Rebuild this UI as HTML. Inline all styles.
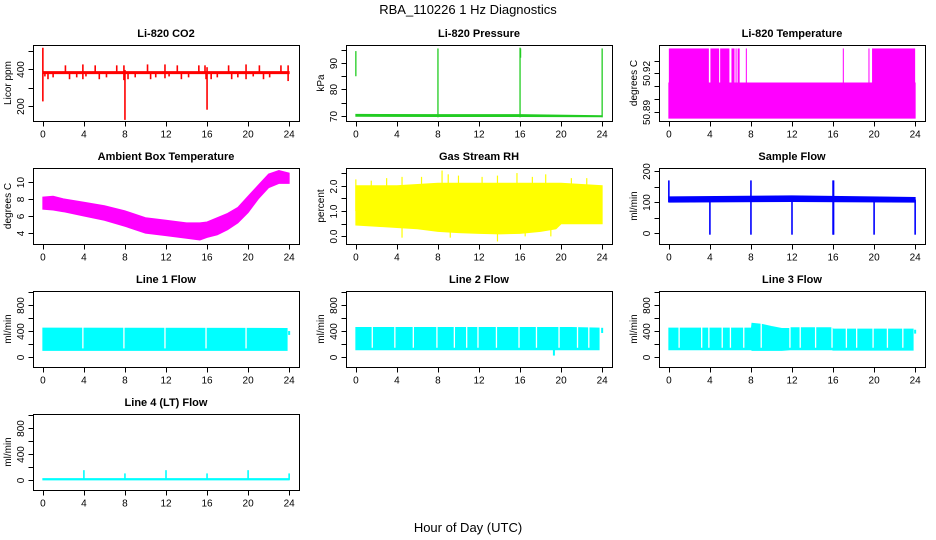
<!DOCTYPE html>
<html><head><meta charset="utf-8"><style>
html,body{margin:0;padding:0;background:#fff;}
svg{display:block;font-family:"Liberation Sans",sans-serif;}
</style></head><body>
<svg id="c" width="936" height="540" viewBox="0 0 936 540">
<text x="468" y="14" text-anchor="middle" font-size="13">RBA_110226  1 Hz Diagnostics</text>
<text x="468" y="532" text-anchor="middle" font-size="13">Hour of Day (UTC)</text>
</svg>
<script>
// ---- data ----
const xTicks=[0,4,8,12,16,20,24];
// CO2
const co2BandT=[0,24], co2BandLo=[375,375], co2BandHi=[386,386];
const co2SegT=[0,0,2.2,3.9,5.1,7.2,7.9,10.2,11.9,13.1,15.2,15.8,18.1,19.8,21.1,23.2,23.9,0.2,0.5,1.0,2.6,3.3,3.9,4.2,5.5,6.2,7.9,8.0,8.3,9.0,10.5,11.0,11.9,12.3,13.5,14.2,15.9,16.0,16.4,17.0,18.4,19.0,19.8,20.5,21.5,22.1,23.9];
const co2SegLo=[225,380,380,380,380,380,380,380,380,380,380,380,380,380,380,380,380,360,345,355,345,355,345,360,345,355,340,125,345,355,345,355,350,360,345,355,345,180,345,355,345,355,345,360,345,355,335];
const co2SegHi=[380,515,420,425,420,420,420,425,425,420,420,420,420,425,420,420,420,380,380,380,380,380,380,380,380,380,380,395,380,380,380,380,380,380,380,380,380,410,380,380,380,380,380,380,380,380,380];
// Pressure
const prBandT=[0,8,16,24], prBandLo=[69.9,69.8,69.8,69.7], prBandHi=[70.6,70.5,70.5,70.1];
const prSegT=[0,8,16,16.05,24], prSegLo=[85,69.5,69.5,92,69.5], prSegHi=[94.5,95.5,95.8,95.5,95.5];
// Li-820 temperature
const tpBandT=[0,24], tpBandLo=[50.885,50.885], tpBandHi=[50.9125,50.9125];
const tpUpStart=[0,4.05,5.0,6.1,6.5,6.7,7.5,16.95,19.45,19.8];
const tpUpEnd=[3.9,4.9,5.9,6.4,6.6,6.9,7.6,17.05,19.55,24];
// Ambient box temperature
const amBandT=[0,1,2,4,6,8,10,12,14,15.3,16,17,18,19,20,21,22,23,24];
const amBandLo=[6.8,6.7,6.5,6.0,5.5,4.8,4.0,3.7,3.4,3.2,3.5,3.8,4.4,5.2,6.4,8.0,9.3,9.8,9.8];
const amBandHi=[8.2,8.3,8.0,7.6,7.2,6.6,5.8,5.5,5.2,5.2,5.3,5.8,6.3,7.0,8.3,9.6,10.9,11.3,11.0];
// Gas stream RH
const rhBandT=[0,2,4,6,8,10,12,14,16,18,19.5,20,22,24];
const rhBandLo=[0.45,0.4,0.35,0.3,0.2,0.15,0.12,0.1,0.12,0.2,0.3,0.5,0.5,0.5];
const rhBandHi=[2.0,2.0,2.0,2.05,2.1,2.1,2.1,2.1,2.1,2.1,2.1,2.1,2.05,2.0];
const rhSegT=[0,1.5,3.0,4.5,6.4,8.4,9.0,10.0,12.3,13.8,15.7,17.2,18.5,21.0,22.5,4.5,9.2,13.8,16.5,19.0];
const rhSegLo=[1,1,1,1,1,1,1,1,1,1,1,1,1,1,1,-0.05,-0.05,-0.2,0.0,0.0];
const rhSegHi=[2.25,2.2,2.3,2.35,2.35,2.6,2.45,2.4,2.35,2.4,2.5,2.35,2.45,2.3,2.3,1,1,1,1,1];
// Sample flow
const sfBandT=[0,12,24], sfBandLo=[100,102,100], sfBandHi=[117,120,115];
const sfSegT=[0,4,8,12,16,16.05,20,24];
const sfSegLo=[100,-5,-5,-5,-5,-5,-5,-5];
const sfSegHi=[170,110,170,115,170,170,110,108];
// Line 1 flow
const l1BandT=[0,23.8], l1BandLo=[100,100], l1BandHi=[445,440];
const l1SegT=[24], l1SegLo=[340], l1SegHi=[400];
const l1GapT=[3.9,7.9,11.9,15.9,19.8];
// Line 2 flow
const l2BandT=[0,21,23.7], l2BandLo=[110,110,110], l2BandHi=[455,455,445];
const l2SegT=[24,19.3], l2SegLo=[370,20], l2SegHi=[450,110];
const l2GapT=[1.6,3.8,5.6,7.9,9.6,10.8,11.9,13.7,15.9,17.6,19.8,21.6,22.7];
// Line 3 flow
const l3BandT=[0,8.05,8.1,9,10,11,11.8,11.85,15.9,16,23.8], l3BandLo=[110,110,100,100,100,100,110,110,110,105,105];
const l3BandHi=[445,445,520,505,470,440,440,450,450,430,430];
const l3SegT=[24], l3SegLo=[360], l3SegHi=[420];
const l3GapT=[1.0,3.2,3.9,5.2,6.0,7.3,9.0,11.8,12.8,14.3,15.9,17.3,18.3,19.9,21.3,22.8];
// Line 4 flow
const l4BandT=[0,24], l4BandLo=[0,0], l4BandHi=[20,20];
const l4SegT=[4,8,12,16,20,24], l4SegLo=[0,0,0,0,0,0], l4SegHi=[150,100,150,100,150,100];

const NS='http://www.w3.org/2000/svg';
const svg=document.getElementById('c');
function el(tag,attrs,parent){const e=document.createElementNS(NS,tag);for(const k in attrs)e.setAttribute(k,attrs[k]);(parent||svg).appendChild(e);return e;}
const colX=[33,346,659], rowY=[45,168,291,414], W=266, H=76;

function panel(name,col,row,title,ylab,ylim,yt,ylabs,color,p){
  const g=el('g',{});
  
  
  const x0=colX[col], y0=rowY[row];
  const xs=t=>x0+W*((t+0.96)/25.92);
  const ys=v=>y0+H*(1-(v-ylim[0])/(ylim[1]-ylim[0]));
  // band
  if(p.bt){
    let pts=[];
    for(let i=0;i<p.bt.length;i++)pts.push(xs(p.bt[i])+','+ys(p.bh[i]));
    for(let i=p.bt.length-1;i>=0;i--)pts.push(xs(p.bt[i])+','+ys(p.bl[i]));
    const b=el('polygon',{points:pts.join(' '),fill:color,stroke:color,'stroke-width':1},g);
    
    
  }
  if(p.us){
    for(let i=0;i<p.us.length;i++){
      const r=el('rect',{x:xs(p.us[i]),y:ys(p.uh),width:Math.max(1,xs(p.ue[i])-xs(p.us[i])),height:ys(p.ul)-ys(p.uh),fill:color},g);
      
      
    }
  }
  if(p.gt){
    for(const t of p.gt){
      const lo=ys(p.bl[0])-2, hi=ys(Math.max(...p.bh))+2;
      const l=el('line',{x1:xs(t),x2:xs(t),y1:lo,y2:hi-4,stroke:'#fff','stroke-width':1.3},g);
      
      
    }
  }
  if(p.st){
    for(let i=0;i<p.st.length;i++){
      const l=el('line',{x1:xs(p.st[i]),x2:xs(p.st[i]),y1:ys(p.sl[i]),y2:ys(p.sh[i]),stroke:color,'stroke-width':p.sw||1.5},g);
      
      
    }
  }
  const box=el('rect',{x:x0+0.5,y:y0+0.5,width:W,height:H,fill:'none',stroke:'#000','stroke-width':1},g);
  
  
  const tt=el('text',{x:x0+W/2,y:y0-8,'text-anchor':'middle','font-size':11,'font-weight':'bold'},g);
  tt.textContent=title;
  
  
  // x axis
  const yb=y0+H+0.5;
  el('line',{x1:xs(0),x2:xs(24),y1:yb,y2:yb,stroke:'#000'},g);
  for(const t of xTicks){
    el('line',{x1:Math.round(xs(t))+0.5,x2:Math.round(xs(t))+0.5,y1:yb,y2:yb+5,stroke:'#000'},g);
    const lt=el('text',{x:xs(t),y:yb+16,'text-anchor':'middle','font-size':10},g);
    lt.textContent=t;
    
    
  }
  // y axis
  const xl=x0+0.5;
  el('line',{x1:xl,x2:xl,y1:ys(yt[0]),y2:ys(yt[yt.length-1]),stroke:'#000'},g);
  for(let i=0;i<yt.length;i++){
    const y=Math.round(ys(yt[i]))+0.5;
    el('line',{x1:xl-5,x2:xl,y1:y,y2:y,stroke:'#000'},g);
    if(ylabs[i]){
      const lt=el('text',{x:0,y:0,'text-anchor':'middle','font-size':10,transform:`translate(${x0-9},${y}) rotate(-90)`},g);
      lt.textContent=ylabs[i];
      
      
    }
  }
  const yl=el('text',{x:0,y:0,'text-anchor':'middle','font-size':10,transform:`translate(${x0-22},${y0+H/2}) rotate(-90)`},g);
  yl.textContent=ylab;
  
  
}
const flowT=[0,200,400,600,800,1000], flowL=['0','','400','','800',''];
panel('co2',0,0,'Li-820 CO2','Licor ppm',[119,530],[200,300,400,500],['200','','400',''],'#ff0000',{bt:co2BandT,bl:co2BandLo,bh:co2BandHi,st:co2SegT,sl:co2SegLo,sh:co2SegHi,sw:1.6});
panel('pressure',1,0,'Li-820 Pressure','kPa',[68.1,96.8],[70,75,80,85,90,95],['70','','80','','90',''],'#22cc22',{bt:prBandT,bl:prBandLo,bh:prBandHi,st:prSegT,sl:prSegLo,sh:prSegHi,sw:1.3});
panel('li820-temp',2,0,'Li-820 Temperature','degrees C',[50.8828,50.9422],[50.89,50.90,50.91,50.92,50.93],['50.89','','','50.92',''],'#ff00ff',{bt:tpBandT,bl:tpBandLo,bh:tpBandHi,us:tpUpStart,ue:tpUpEnd,ul:50.9125,uh:50.9395});
panel('ambient-temp',0,1,'Ambient Box Temperature','degrees C',[2.73,11.6],[4,6,8,10],['4','6','8','10'],'#ff00ff',{bt:amBandT,bl:amBandLo,bh:amBandHi});
panel('rh',1,1,'Gas Stream RH','percent',[-0.3,2.7],[0,0.5,1,1.5,2,2.5],['0.0','','1.0','','2.0',''],'#ffff00',{bt:rhBandT,bl:rhBandLo,bh:rhBandHi,st:rhSegT,sl:rhSegLo,sh:rhSegHi,sw:1.2});
panel('sample-flow',2,1,'Sample Flow','ml/min',[-35,210],[0,50,100,150,200],['0','','100','','200'],'#0000ff',{bt:sfBandT,bl:sfBandLo,bh:sfBandHi,st:sfSegT,sl:sfSegLo,sh:sfSegHi,sw:1.6});
panel('line1-flow',0,2,'Line 1 Flow','ml/min',[-157,1020],flowT,flowL,'#00ffff',{bt:l1BandT,bl:l1BandLo,bh:l1BandHi,gt:l1GapT,st:l1SegT,sl:l1SegLo,sh:l1SegHi,sw:2});
panel('line2-flow',1,2,'Line 2 Flow','ml/min',[-157,1020],flowT,flowL,'#00ffff',{bt:l2BandT,bl:l2BandLo,bh:l2BandHi,gt:l2GapT,st:l2SegT,sl:l2SegLo,sh:l2SegHi,sw:2});
panel('line3-flow',2,2,'Line 3 Flow','ml/min',[-157,1020],flowT,flowL,'#00ffff',{bt:l3BandT,bl:l3BandLo,bh:l3BandHi,gt:l3GapT,st:l3SegT,sl:l3SegLo,sh:l3SegHi,sw:2});
panel('line4-flow',0,3,'Line 4 (LT) Flow','ml/min',[-157,1020],flowT,flowL,'#00ffff',{bt:l4BandT,bl:l4BandLo,bh:l4BandHi,st:l4SegT,sl:l4SegLo,sh:l4SegHi,sw:1.6});
</script>
</body></html>
